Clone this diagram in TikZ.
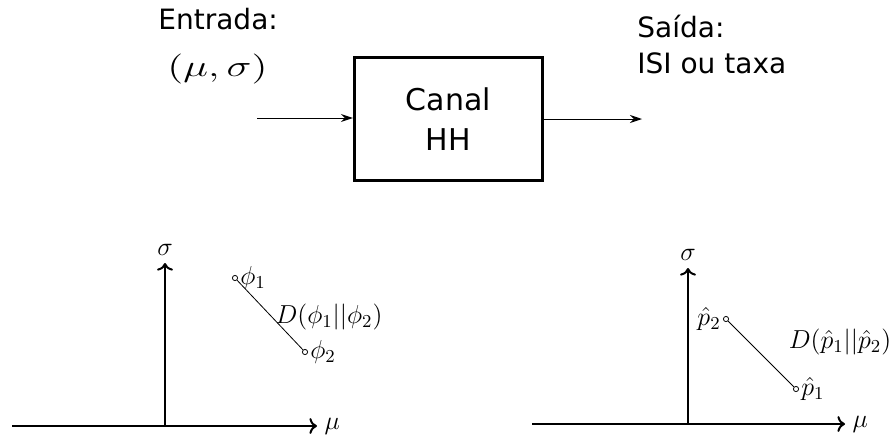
\RequirePackage{fix-cm}
\documentclass[tikz,border=0pt]{standalone}
\usepackage[no-math]{fontspec}
\usepackage{graphicx}
\usetikzlibrary{arrows.meta}
\newfontfamily\dejavu{DejaVu Sans}

\begin{document}
\begin{tikzpicture}[x=0.5pt,y=-0.5pt,
  ponto/.style={draw,circle,inner sep=0pt,minimum size=2.6pt,line width=0.4pt},
  rotulo/.style={font=\fontsize{13}{15}\selectfont},
  texto/.style={font=\dejavu\fontsize{14}{18}\selectfont,inner sep=0pt}]
\useasboundingbox (0,0) rectangle (892,440);

% bloco do canal
\node[draw,line width=1.6pt,minimum width=94pt,minimum height=61.5pt,align=center,
  font=\dejavu\fontsize{15}{20}\selectfont] (canal) at (448.5,119) {Canal\\HH};
\coordinate (ent) at (257,118);
\coordinate (sai) at (642,119);
\draw[-{Stealth[length=6pt,width=4pt]},line width=0.5pt] (ent) -- (ent -| canal.west);
\draw[-{Stealth[length=6pt,width=4pt]},line width=0.5pt] (canal) -- (sai);
\node[texto,anchor=base west] (entrada) at (158,29) {Entrada:};
\node[inner sep=0pt] (musigma) at (217.5,69) {\fontsize{15}{18}\selectfont\scalebox{1.4}[1]{$(\mu,\sigma)$}};
\node[texto,anchor=base west] (saida) at (637,37) {Saída:};
\node[texto,anchor=base west] (taxa) at (637,73) {ISI ou taxa};

% plano de entrada
\coordinate (o1) at (165,426);
\coordinate (x1a) at (12,426);
\coordinate (x1b) at (317,426);
\coordinate (y1) at (165,263);
\draw[->,line width=1pt] (x1a) -- (x1b) node[right,rotulo] (mu1) {$\mu$};
\draw[->,line width=1pt] (o1) -- (y1) node[above,rotulo] (sig1) {$\sigma$};
\node[ponto] (f1) at (235,278) {};
\node[ponto] (f2) at (305,352) {};
\draw[line width=0.4pt] (f1) -- (f2);
\node[rotulo,right,inner sep=1pt] (lf1) at (f1.east) {$\phi_1$};
\node[rotulo,right,inner sep=1pt] (lf2) at (f2.east) {$\phi_2$};
\node[rotulo] (dphi) at (329,317) {$D(\phi_1||\phi_2)$};

% plano de saida
\coordinate (o2) at (688,424);
\coordinate (x2a) at (532,424);
\coordinate (x2b) at (845,424);
\coordinate (y2) at (688,268);
\draw[->,line width=1pt] (x2a) -- (x2b) node[right,rotulo] (mu2) {$\mu$};
\draw[->,line width=1pt] (o2) -- (y2) node[above,rotulo] (sig2) {$\sigma$};
\node[ponto] (p2) at (726,319) {};
\node[ponto] (p1) at (796,389) {};
\draw[line width=0.4pt] (p2) -- (p1);
\node[rotulo,left,inner sep=1pt] (lp2) at (p2.west) {$\hat{p}_2$};
\node[rotulo,right,inner sep=1pt] (lp1) at (p1.east) {$\hat{p}_1$};
\node[rotulo,inner sep=1pt] (dp) at (840,342) {$D(\hat{p}_1||\hat{p}_2)$};
\end{tikzpicture}
\end{document}
